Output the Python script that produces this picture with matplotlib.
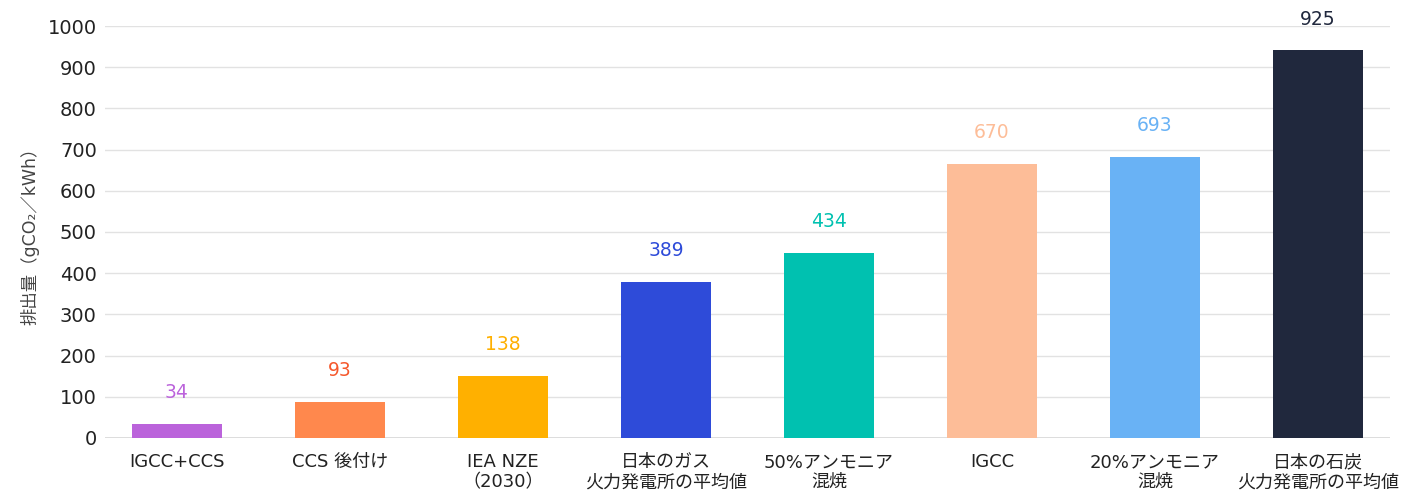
import numpy as np
import matplotlib.pyplot as plt

# wide latin glyphs from DejaVu, japanese falls back to Noto CJK
plt.rcParams['font.family'] = ['DejaVu Sans', 'Noto Sans CJK JP']

# categories and values
categories = ['IGCC+CCS', 'CCS 後付け', 'IEA NZE\n（2030）', '日本のガス\n火力発電所の平均値',
              '50%アンモニア\n混焼', 'IGCC', '20%アンモニア\n混焼', '日本の石炭\n火力発電所の平均値']
bar_heights = [34, 87, 150, 379, 449, 665, 682, 941]
value_labels = ['34', '93', '138', '389', '434', '670', '693', '925']
bar_colors = ['#BB63DB', '#FF884D', '#FFB000', '#2E4BD9', '#00C1B0', '#FDBD98', '#69B2F5', '#20283D']
label_colors = ['#BB63DB', '#F5582C', '#FFB000', '#2E4BD9', '#00C1B0', '#FDBD98', '#69B2F5', '#20283D']
yticks = list(range(0, 1001, 100))

fig = plt.figure(figsize=(14.21, 5.01), dpi=100)
ax = fig.add_axes([0.074, 0.126, 0.904, 0.822])

x = np.arange(len(categories))
ax.bar(x, bar_heights, width=0.55, color=bar_colors, zorder=3)

# value labels sit a fixed distance above each bar
for xi, h, txt, c in zip(x, bar_heights, value_labels, label_colors):
    ax.text(xi, h + 76, txt, ha='center', va='center', fontsize=13.5, color=c,
            clip_on=False)

ax.set_xlim(-0.44, 7.44)
ax.set_ylim(0, 1000)
ax.set_yticks(yticks)
ax.set_yticklabels([str(t) for t in yticks], fontsize=14, color='#222222')
ax.set_xticks(x)
ax.set_xticklabels(categories, fontsize=13, color='#222222', linespacing=1.15)
ax.tick_params(axis='both', length=0)
ax.tick_params(axis='x', pad=11)
ax.tick_params(axis='y', pad=6)

ax.yaxis.grid(True, color='#E2E2E2', linewidth=1.0, zorder=0)
ax.set_axisbelow(True)
for s in ax.spines.values():
    s.set_visible(False)
ax.axhline(0, color='#D8D8D8', linewidth=1.2, zorder=1)

ax.set_ylabel('排出量（gCO₂／kWh）', fontsize=12.5, color='#444444', labelpad=6)

fig.savefig('out.png', dpi=100)
